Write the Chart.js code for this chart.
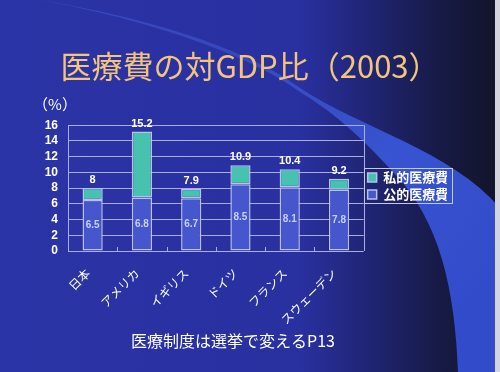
<!DOCTYPE html>
<html><head><meta charset="utf-8">
<script src="https://cdn.jsdelivr.net/npm/chart.js@4.4.1/dist/chart.umd.min.js"></script>
<style>html,body{margin:0;padding:0;background:#1e2470;overflow:hidden}#wrap{width:500px;height:372px;position:relative}</style>
</head><body><div id="wrap"><canvas id="c" width="500" height="372"></canvas></div>
<script>
const categories = ['日本', 'アメリカ', 'イギリス', 'ドイツ', 'フランス', 'スウェーデン'];
const publicSpending = [6.5, 6.8, 6.7, 8.5, 8.1, 7.8];
const privateSpending = [1.5, 8.4, 1.2, 2.4, 2.3, 1.4];
const totals = [8, 15.2, 7.9, 10.9, 10.4, 9.2];
const yTicks = [0, 2, 4, 6, 8, 10, 12, 14, 16];
const seriesNames = ['公的医療費', '私的医療費'];
const titleText = '医療費の対GDP比（2003）';
const unitText = '（%）';
const captionText = '医療制度は選挙で変えるP13';

const JP = '"Noto Sans CJK JP", "Noto Sans", sans-serif';
const GRID = '#a9aee2';

const bgPlugin = {
  id: 'bg',
  beforeDraw(chart) {
    const ctx = chart.ctx, W = chart.width, H = chart.height;
    ctx.save();
    const g = ctx.createLinearGradient(0, 0, W, 0);
    g.addColorStop(0, '#2b34a6');
    g.addColorStop(0.6, '#2930a0');
    g.addColorStop(0.75, '#1f2470');
    g.addColorStop(0.88, '#171a45');
    g.addColorStop(1, '#121428');
    ctx.fillStyle = g;
    ctx.fillRect(0, 0, W, H);
    // swoosh band
    ctx.beginPath();
    ctx.moveTo(40, 0);
    ctx.bezierCurveTo(150, 18, 250, 50, 300, 88);
    ctx.bezierCurveTo(360, 128, 450, 150, 500, 208);
    ctx.lineTo(500, 372);
    ctx.lineTo(458, 372);
    ctx.bezierCurveTo(455, 290, 440, 220, 393, 172);
    ctx.bezierCurveTo(360, 135, 330, 110, 300, 92);
    ctx.bezierCurveTo(250, 55, 150, 20, 40, 0);
    ctx.closePath();
    const bg = ctx.createLinearGradient(250, 60, 480, 300);
    bg.addColorStop(0, 'rgba(70,100,225,0.45)');
    bg.addColorStop(0.5, 'rgba(58,88,220,0.92)');
    bg.addColorStop(1, 'rgba(52,78,210,0.95)');
    ctx.fillStyle = bg;
    ctx.fill();
    // light slide edge
    ctx.fillStyle = '#d4d4dc';
    ctx.fillRect(495, 0, 5, H);
    ctx.restore();
  },
  beforeDatasetsDraw(chart) {
    const ctx = chart.ctx, a = chart.chartArea;
    ctx.save();
    ctx.strokeStyle = GRID;
    ctx.lineWidth = 1;
    ctx.beginPath();
    ctx.moveTo(Math.round(a.right) + 0.5, a.top);
    ctx.lineTo(Math.round(a.right) + 0.5, a.bottom);
    const els = chart.getDatasetMeta(0).data;
    for (let i = 1; i < els.length; i++) {
      const x = Math.round((els[i - 1].x + els[i].x) / 2) + 0.5;
      ctx.moveTo(x, a.bottom);
      ctx.lineTo(x, a.bottom - 4);
    }
    ctx.stroke();
    ctx.restore();
  },
  afterDatasetsDraw(chart) {
    const ctx = chart.ctx;
    const m0 = chart.getDatasetMeta(0).data, m1 = chart.getDatasetMeta(1).data;
    ctx.save();
    ctx.textAlign = 'center';
    ctx.textBaseline = 'middle';
    ctx.font = 'bold 10px "Liberation Sans", Arial, sans-serif';
    ctx.fillStyle = '#c9cff3';
    m0.forEach((el, i) => {
      ctx.fillText(String(publicSpending[i]), el.x, (el.y + el.base) / 2);
    });
    ctx.fillStyle = '#ffffff';
    ctx.font = 'bold 11px "Liberation Sans", Arial, sans-serif';
    m1.forEach((el, i) => {
      ctx.fillText(String(totals[i]), el.x, el.y - 8);
    });
    ctx.restore();
  },
  afterDraw(chart) {
    const ctx = chart.ctx, a = chart.chartArea;
    ctx.save();
    ctx.fillStyle = '#ffffff';
    ctx.font = '15px ' + JP;
    ctx.textAlign = 'center';
    ctx.textBaseline = 'middle';
    ctx.fillText(unitText, 55, a.top - 21);
    ctx.font = '16px ' + JP;
    ctx.fillText(captionText, 233, 341);
    const l = chart.legend;
    if (l && l.legendHitBoxes && l.legendHitBoxes.length) {
      let x0 = 1e9, y0 = 1e9, x1 = -1e9, y1 = -1e9;
      l.legendHitBoxes.forEach(h => {
        x0 = Math.min(x0, h.left); y0 = Math.min(y0, h.top);
        x1 = Math.max(x1, h.left + h.width); y1 = Math.max(y1, h.top + h.height);
      });
      ctx.strokeStyle = '#c4c8ea';
      ctx.lineWidth = 1;
      ctx.strokeRect(Math.round(x0 - 4) + 0.5, Math.round(y0 - 3) + 0.5, Math.round(x1 - x0 + 7), Math.round(y1 - y0 + 5));
    }
    ctx.restore();
  }
};

new Chart(document.getElementById('c'), {
  type: 'bar',
  data: {
    labels: categories,
    datasets: [
      { label: seriesNames[0], data: publicSpending, backgroundColor: '#4656cc', borderColor: '#b9c0ee', borderWidth: 1.5, borderSkipped: false },
      { label: seriesNames[1], data: privateSpending, backgroundColor: '#47c2ae', borderColor: '#b9c0ee', borderWidth: 1.5, borderSkipped: false }
    ]
  },
  options: {
    responsive: false,
    animation: false,
    devicePixelRatio: 1,
    layout: { padding: 0 },
    datasets: { bar: { categoryPercentage: 1, barPercentage: 0.41 } },
    scales: {
      x: {
        stacked: true,
        grid: { display: false, drawTicks: false },
        border: { display: false },
        afterFit(s) { s.height = 121; },
        ticks: { color: '#ffffff', font: { family: JP, size: 12 }, minRotation: 45, maxRotation: 45, padding: 15, labelOffset: -5, autoSkip: false }
      },
      y: {
        stacked: true, min: 0, max: 16,
        afterBuildTicks(s) { s.ticks = yTicks.map(v => ({ value: v })); },
        afterFit(s) { s.width = 68; },
        ticks: { color: '#ffffff', font: { family: '"Liberation Sans", Arial, sans-serif', size: 12, weight: 'bold' }, padding: 10, autoSkip: false },
        grid: { color: GRID, lineWidth: 1, drawTicks: false },
        border: { display: true, color: GRID }
      },
      spacer: {
        position: 'right', weight: 2000, min: 0, max: 1,
        grid: { display: false, drawOnChartArea: false, drawTicks: false },
        border: { display: false },
        ticks: { display: false },
        afterFit(s) { s.width = 53; }
      }
    },
    plugins: {
      legend: {
        position: 'right', reverse: true,
        labels: { color: '#ffffff', boxWidth: 9, boxHeight: 9, padding: 4, font: { family: JP, size: 13, weight: 'bold' } }
      },
      title: { display: true, text: titleText, color: '#f3c47a', font: { family: JP, size: 31, weight: '400' }, padding: { top: 48, bottom: 40 } },
      subtitle: { display: false },
      tooltip: { enabled: false }
    }
  },
  plugins: [bgPlugin]
});
</script>
</body></html>
